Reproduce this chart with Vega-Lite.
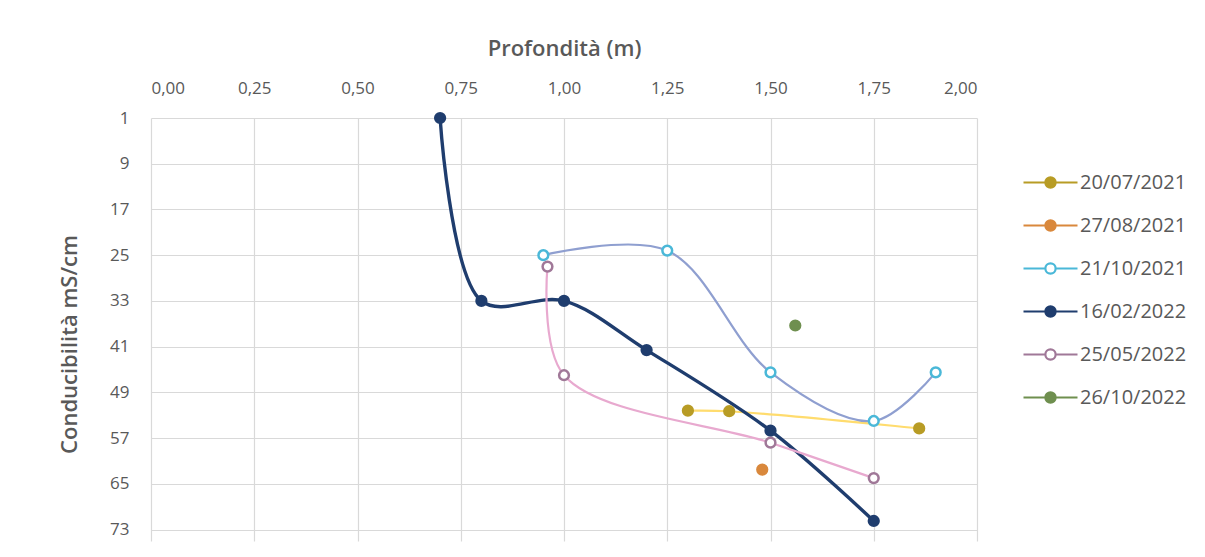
{
  "$schema": "https://vega.github.io/schema/vega-lite/v6.json",
  "width": 826,
  "height": 423,
  "padding": {"left": 58, "top": 37, "right": 5, "bottom": 5},
  "background": "white",
  "config": {
    "font": "Open Sans",
    "view": {"stroke": null},
    "axis": {"labelColor": "#595959", "titleColor": "#595959", "gridColor": "#d9d9d9", "gridWidth": 1.2, "domain": false, "ticks": false, "labelFont": "Open Sans", "titleFont": "Open Sans"},
    "legend": {"orient": "none", "legendX": 871, "legendY": 36, "padding": 0, "title": null, "symbolType": "M-1,0L-0.19,0M0.19,0L1,0M-0.19,0A0.19,0.19 0 1,0 0.19,0A0.19,0.19 0 1,0 -0.19,0", "symbolSize": 2916, "symbolStrokeWidth": 2.2, "rowPadding": 4, "labelFontSize": 20, "labelColor": "#595959", "labelFont": "Open Sans", "labelOffset": 1}
  },
  "data": {
    "values": [
      {"data": "20/07/2021", "ord": 1, "prof": 1.30, "cond": 52.2},
      {"data": "20/07/2021", "ord": 2, "prof": 1.40, "cond": 52.3},
      {"data": "20/07/2021", "ord": 3, "prof": 1.86, "cond": 55.3},
      {"data": "27/08/2021", "ord": 1, "prof": 1.48, "cond": 62.5},
      {"data": "21/10/2021", "ord": 1, "prof": 0.95, "cond": 25.0},
      {"data": "21/10/2021", "ord": 2, "prof": 1.25, "cond": 24.2},
      {"data": "21/10/2021", "ord": 3, "prof": 1.50, "cond": 45.5},
      {"data": "21/10/2021", "ord": 4, "prof": 1.75, "cond": 54.0},
      {"data": "21/10/2021", "ord": 5, "prof": 1.90, "cond": 45.5},
      {"data": "16/02/2022", "ord": 1, "prof": 0.70, "cond": 1.0},
      {"data": "16/02/2022", "ord": 2, "prof": 0.80, "cond": 33.0},
      {"data": "16/02/2022", "ord": 3, "prof": 1.00, "cond": 33.0},
      {"data": "16/02/2022", "ord": 4, "prof": 1.20, "cond": 41.6},
      {"data": "16/02/2022", "ord": 5, "prof": 1.50, "cond": 55.7},
      {"data": "16/02/2022", "ord": 6, "prof": 1.75, "cond": 71.5},
      {"data": "25/05/2022", "ord": 1, "prof": 0.96, "cond": 27.0},
      {"data": "25/05/2022", "ord": 2, "prof": 1.00, "cond": 46.0},
      {"data": "25/05/2022", "ord": 3, "prof": 1.50, "cond": 57.8},
      {"data": "25/05/2022", "ord": 4, "prof": 1.75, "cond": 64.0},
      {"data": "26/10/2022", "ord": 1, "prof": 1.56, "cond": 37.3}
    ]
  },
  "encoding": {
    "x": {
      "field": "prof", "type": "quantitative",
      "scale": {"domain": [0, 2], "nice": false},
      "axis": {"orient": "top", "title": "Profondità (m)", "values": [0, 0.25, 0.5, 0.75, 1, 1.25, 1.5, 1.75, 2], "labelFontSize": 17, "titleFontSize": 22, "titleFontWeight": 600, "labelPadding": 21, "titlePadding": 19, "labelExpr": "replace(format(datum.value, '.2f'), '.', ',')"}
    },
    "y": {
      "field": "cond", "type": "quantitative",
      "scale": {"domain": [1, 75], "nice": false, "zero": false, "reverse": true},
      "axis": {"title": "Conducibilità mS/cm", "values": [1, 9, 17, 25, 33, 41, 49, 57, 65, 73], "labelFontSize": 17, "titleFontSize": 22, "titleFontWeight": 600, "labelPadding": 22, "titlePadding": 28, "titleY": 226}
    }
  },
  "layer": [
    {
      "mark": {"type": "line", "interpolate": "catmull-rom"},
      "encoding": {
        "color": {
          "field": "data", "type": "nominal",
          "scale": {"domain": ["26/10/2022", "25/05/2022", "16/02/2022", "21/10/2021", "27/08/2021", "20/07/2021"], "range": ["#7a9a5a", "#e8a9cf", "#1f3d6e", "#8f9fd0", "#ed9a50", "#ffdc6e"]},
          "legend": null
        },
        "order": {"field": "ord", "type": "quantitative"},
        "strokeWidth": {"condition": {"test": "datum.data === '16/02/2022'", "value": 3.4}, "value": 2.2}
      }
    },
    {
      "mark": {"type": "point", "filled": true, "size": 95, "strokeWidth": 2.5, "opacity": 1},
      "encoding": {
        "stroke": {
          "field": "data", "type": "nominal",
          "scale": {"domain": ["20/07/2021", "27/08/2021", "21/10/2021", "16/02/2022", "25/05/2022", "26/10/2022"], "range": ["#b89c25", "#d9883c", "#4ab8d8", "#1f3d6e", "#a07898", "#6f8f4f"]}
        },
        "fill": {
          "field": "data", "type": "nominal",
          "scale": {"domain": ["20/07/2021", "27/08/2021", "21/10/2021", "16/02/2022", "25/05/2022", "26/10/2022"], "range": ["#b89c25", "#d9883c", "#ffffff", "#1f3d6e", "#ffffff", "#6f8f4f"]}
        }
      }
    }
  ]
}
